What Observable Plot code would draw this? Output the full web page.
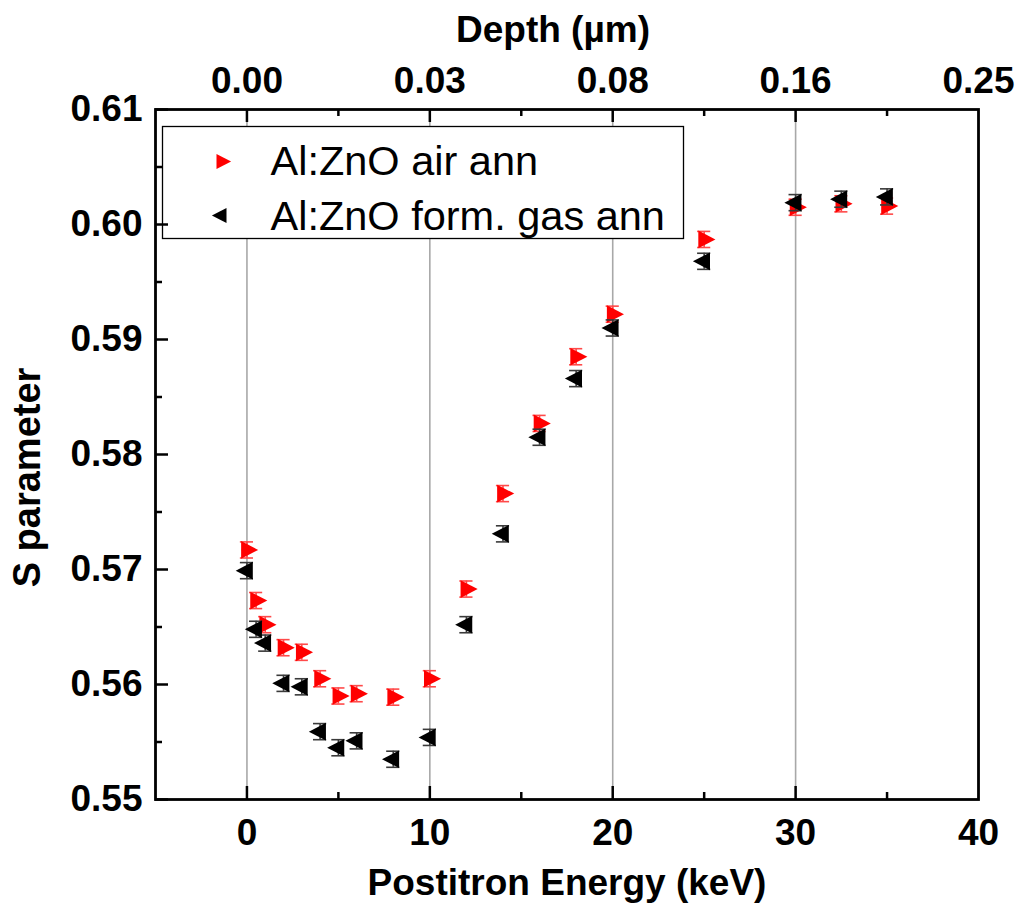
<!DOCTYPE html>
<html>
<head>
<meta charset="utf-8">
<script src="https://cdn.jsdelivr.net/npm/d3@7"></script>
<script src="https://cdn.jsdelivr.net/npm/@observablehq/plot@0.6"></script>
<style>
  html, body { margin: 0; padding: 0; background: #fff; }
  #chart { width: 1021px; height: 921px; }
</style>
</head>
<body>
<div id="chart"></div>
<script>
// ---- data ----
const energy = [0, 0.5, 1, 2, 3, 4, 5, 6, 8, 10, 12, 14, 16, 18, 20, 25, 30, 32.5, 35];
const sAir = [0.5717, 0.5673, 0.5652, 0.5632, 0.5628, 0.5605, 0.5590, 0.5592, 0.5589, 0.5605,
              0.5683, 0.5766, 0.5827, 0.5885, 0.5922, 0.5987, 0.6015, 0.6018, 0.6016];
const sGas = [0.5699, 0.5648, 0.5636, 0.5601, 0.5598, 0.5559, 0.5545, 0.5551, 0.5535, 0.5554,
              0.5652, 0.5731, 0.5815, 0.5866, 0.5910, 0.5968, 0.6019, 0.6022, 0.6024];
const errAir = [0.0007, 0.0007, 0.0007, 0.0007, 0.0007, 0.0007, 0.0007, 0.0007, 0.0007, 0.0007,
                0.0007, 0.0007, 0.0007, 0.0007, 0.0007, 0.0007, 0.0007, 0.0007, 0.0007];
const errGas = [0.0007, 0.0007, 0.0007, 0.0007, 0.0007, 0.0007, 0.0007, 0.0007, 0.0007, 0.0007,
                0.0007, 0.0007, 0.0007, 0.0007, 0.0007, 0.0007, 0.0007, 0.0007, 0.0007];
const seriesNames = ["Al:ZnO air ann", "Al:ZnO form. gas ann"];
const energyTicks = [0, 10, 20, 30, 40];
const energyMinorTicks = [5, 15, 25, 35];
const gridTicks = [0, 10, 20, 30];
const depthLabels = ["0.00", "0.03", "0.08", "0.16", "0.25"];
const sTicks = [0.55, 0.56, 0.57, 0.58, 0.59, 0.60, 0.61];
const sMinorTicks = [0.555, 0.565, 0.575, 0.585, 0.595, 0.605];
const xTitle = "Postitron Energy (keV)";
const x2Title = "Depth (µm)";
const yTitle = "S parameter";

// ---- build tables ----
const air = energy.map((e, i) => ({E: e, S: sAir[i], err: errAir[i]}));
const gas = energy.map((e, i) => ({E: e, S: sGas[i], err: errGas[i]}));

// custom triangle symbols (pointing right / left)
const triRight = {draw(ctx, size) { const r = Math.sqrt(size / Math.PI);
  ctx.moveTo(1.5 * r, 0); ctx.lineTo(-0.78 * r, -1.18 * r); ctx.lineTo(-0.78 * r, 1.18 * r); ctx.closePath(); }};
const triLeft = {draw(ctx, size) { const r = Math.sqrt(size / Math.PI);
  ctx.moveTo(-1.5 * r, 0); ctx.lineTo(0.78 * r, -1.18 * r); ctx.lineTo(0.78 * r, 1.18 * r); ctx.closePath(); }};

const W = 1021, H = 921;
const mL = 155, mR = 43, mT = 109, mB = 122;
const innerW = W - mL - mR, innerH = H - mT - mB;
const capHalf = 0.36;
const red = "#ff0000", redErr = "#ff4a4a", blk = "#000000", blkErr = "#3a3a3a";

function errorMarks(data, color) {
  return [
    Plot.ruleX(data, {x: "E", y1: d => d.S - d.err, y2: d => d.S + d.err, stroke: color, strokeWidth: 1.6}),
    Plot.ruleY(data, {y: d => d.S - d.err, x1: d => d.E - capHalf, x2: d => d.E + capHalf, stroke: color, strokeWidth: 1.6}),
    Plot.ruleY(data, {y: d => d.S + d.err, x1: d => d.E - capHalf, x2: d => d.E + capHalf, stroke: color, strokeWidth: 1.6})
  ];
}

const chart = Plot.plot({
  width: W, height: H,
  marginLeft: mL, marginRight: mR, marginTop: mT, marginBottom: mB,
  style: {fontFamily: "'Liberation Sans', Arial, sans-serif", fontSize: "37px", fontWeight: "bold", color: "#000", background: "#fff"},
  x: {domain: [-5, 40]},
  y: {domain: [0.55, 0.61]},
  marks: [
    // grid lines
    Plot.ruleX(gridTicks, {x: d => d, stroke: "#a8a8a8", strokeWidth: 1.6}),
    // legend box
    Plot.frame({insetLeft: 7, insetTop: 17, insetRight: 295, insetBottom: 561, fill: "white", stroke: "black", strokeWidth: 1.3}),
    Plot.dot([seriesNames[0]], {frameAnchor: "top-left", dx: 66, dy: 52, r: 6.4, symbol: triRight, fill: red, stroke: "none"}),
    Plot.dot([seriesNames[1]], {frameAnchor: "top-left", dx: 66, dy: 106, r: 6.4, symbol: triLeft, fill: blk, stroke: "none"}),
    Plot.text([seriesNames[0]], {frameAnchor: "top-left", dx: 115, dy: 65, text: d => d, textAnchor: "start", lineAnchor: "bottom", fontSize: 41.5, fontWeight: "normal", fill: "black"}),
    Plot.text([seriesNames[1]], {frameAnchor: "top-left", dx: 115, dy: 120, text: d => d, textAnchor: "start", lineAnchor: "bottom", fontSize: 41.5, fontWeight: "normal", fill: "black"}),
    // error bars and markers
    ...errorMarks(air, redErr),
    Plot.dot(air, {x: "E", y: "S", r: 7.5, symbol: triRight, fill: red, stroke: "none"}),
    ...errorMarks(gas, blkErr),
    Plot.dot(gas, {x: "E", y: "S", r: 7.5, symbol: triLeft, fill: blk, stroke: "none"}),
    // inward tick marks
    Plot.tickX(energyTicks.slice(0, 4), {x: d => d, insetTop: innerH - 13, stroke: "black", strokeWidth: 2.5}),
    Plot.tickX(energyMinorTicks, {x: d => d, insetTop: innerH - 7, stroke: "black", strokeWidth: 2.5}),
    Plot.tickX(energyTicks.slice(0, 4), {x: d => d, insetBottom: innerH - 13, stroke: "black", strokeWidth: 2.5}),
    Plot.tickX(energyMinorTicks, {x: d => d, insetBottom: innerH - 7, stroke: "black", strokeWidth: 2.5}),
    Plot.tickY(sTicks, {y: d => d, insetRight: innerW - 13, stroke: "black", strokeWidth: 2.5}),
    Plot.tickY(sMinorTicks, {y: d => d, insetRight: innerW - 7, stroke: "black", strokeWidth: 2.5}),
    // frame
    Plot.frame({stroke: "black", strokeWidth: 2.8}),
    // axes (tick labels)
    Plot.axisX({anchor: "bottom", ticks: energyTicks, tickSize: 0, tickPadding: 19, tickFormat: d3.format("d"),
      label: xTitle, labelAnchor: "center", labelOffset: 95, labelArrow: "none"}),
    Plot.axisX({anchor: "top", ticks: energyTicks, tickSize: 0, tickPadding: 17,
      tickFormat: d => depthLabels[energyTicks.indexOf(d)], label: null}),
    Plot.axisY({anchor: "left", ticks: sTicks, tickSize: 0, tickPadding: 13, tickFormat: d3.format(".2f"), label: null}),
    // axis titles
    Plot.text([x2Title], {frameAnchor: "top", dx: -14, dy: -94, text: d => d, textAnchor: "middle", lineAnchor: "top", fontSize: 37, fontWeight: "bold", fill: "black"}),
    Plot.text([yTitle], {frameAnchor: "left", dx: -142, dy: 23, text: d => d, rotate: -90, textAnchor: "middle", lineAnchor: "top", fontSize: 38, fontWeight: "bold", fill: "black"})
  ]
});
document.getElementById("chart").appendChild(chart);
</script>
</body>
</html>
